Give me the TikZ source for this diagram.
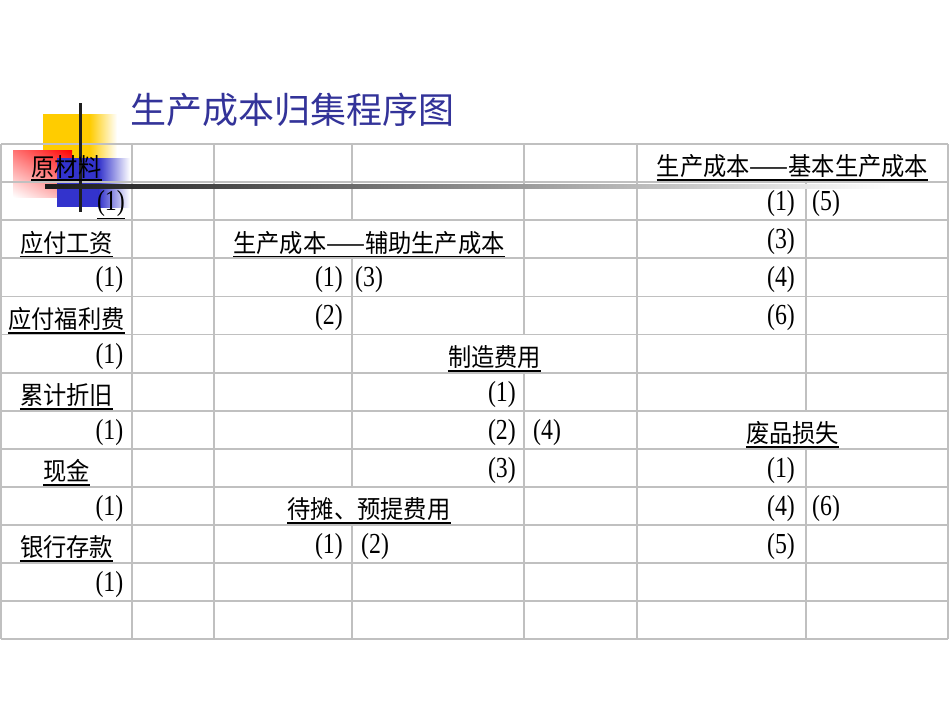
\documentclass[tikz,border=0pt]{standalone}
\usepackage{fontspec}
\usetikzlibrary{shadings}
\setmainfont{Liberation Serif}
\newfontfamily\cjk[FakeStretch=0.93]{Noto Sans CJK SC}
\newfontfamily\titlef{Noto Sans CJK SC}
\newfontfamily\numf[FakeStretch=0.82]{Liberation Serif}
\definecolor{gridc}{RGB}{192,192,192}
\definecolor{titlec}{RGB}{51,51,153}
\definecolor{yel}{RGB}{255,204,0}
\definecolor{blu}{RGB}{51,51,204}
\newcommand\ulbox[3]{\node[cn] (#1) at (#2) {#3};
  \draw[ulc] ([yshift=-2pt]#1.south west) -- ([yshift=-2pt]#1.south east);}
\begin{document}
\begin{tikzpicture}[x=1pt,y=-1pt,
  cn/.style={font=\cjk\fontsize{25}{25}\selectfont,inner sep=0pt},
  nm/.style={font=\numf\fontsize{29}{29}\selectfont,inner sep=0pt},
  ulc/.style={line width=1.8pt,black},
  gl/.style={draw=gridc,line width=1.8pt}]
\useasboundingbox[fill=white] (0,0) rectangle (950,713);

% template decoration
\fill[yel] (43,114) rectangle (90,186);
\shade[left color=yel,right color=white] (89.5,114) rectangle (117,186);
\shade[upper right=red,upper left=red!55!white,lower right=red!35!white,lower left=white] (13,150) rectangle (72,197);
\fill[blu] (57,158) rectangle (99,207);
\shade[left color=blu,right color=white] (98.5,158) rectangle (130,207);

% grid
\foreach \i in {0,...,13} \draw[gl] (1,{144+\i*38.1}) -- (948,{144+\i*38.1});
\foreach \x in {1,132,214,637,948} \draw[gl] (\x,144) -- (\x,639.3);
\draw[gl] (352,144) -- (352,220.2) (352,258.3) -- (352,486.9) (352,525) -- (352,639.3);
\draw[gl] (524,144) -- (524,334.5) (524,372.6) -- (524,639.3);
\draw[gl] (806,182.1) -- (806,410.7) (806,448.8) -- (806,639.3);

% black template lines
\fill[black!88] (78.5,103) rectangle (81.5,212);
\shade[left color=black!90,middle color=black!60,right color=white] (45,184.5) rectangle (890,188.5);

% title
\node[font=\titlef\fontsize{36}{36}\selectfont,text=titlec,anchor=west,inner sep=0pt] (title) at (130,110) {生产成本归集程序图};

% row 1
\ulbox{yclb}{66.5,166.5}{原材料}
\ulbox{jbsc}{792.5,166.5}{生产成本——基本生产成本}
% row 2
\node[nm,anchor=east] (r2a) at (125,203.7) {(1)};
\draw[ulc] ([yshift=-1.5pt]r2a.south west) -- ([yshift=-1.5pt]r2a.south east);
\node[nm,anchor=east] (r2f) at (795,203.7) {(1)};
\node[nm,anchor=west] (r2g) at (812,203.7) {(5)};
% row 3
\ulbox{yfgz}{66.5,242.7}{应付工资}
\ulbox{fzsc}{369,242.7}{生产成本——辅助生产成本}
\node[nm,anchor=east] (r3f) at (795,241.8) {(3)};
% row 4
\node[nm,anchor=east] (r4a) at (123.5,279.9) {(1)};
\node[nm,anchor=east] (r4c) at (343,279.9) {(1)};
\node[nm,anchor=west] (r4d) at (355,279.9) {(3)};
\node[nm,anchor=east] (r4f) at (795,279.9) {(4)};
% row 5
\ulbox{yfflf}{66.5,318.9}{应付福利费}
\node[nm,anchor=east] (r5c) at (343,318) {(2)};
\node[nm,anchor=east] (r5f) at (795,318) {(6)};
% row 6
\node[nm,anchor=east] (r6a) at (123.5,356.1) {(1)};
\ulbox{zzfy}{494.5,357}{制造费用}
% row 7
\ulbox{ljzj}{66.5,395.1}{累计折旧}
\node[nm,anchor=east] (r7d) at (516,394.2) {(1)};
% row 8
\node[nm,anchor=east] (r8a) at (123.5,432.3) {(1)};
\node[nm,anchor=east] (r8d) at (516,432.3) {(2)};
\node[nm,anchor=west] (r8e) at (533,432.3) {(4)};
\ulbox{fpss}{792.5,433.2}{废品损失}
% row 9
\ulbox{xj}{66.5,471.3}{现金}
\node[nm,anchor=east] (r9d) at (516,470.4) {(3)};
\node[nm,anchor=east] (r9f) at (795,470.4) {(1)};
% row 10
\node[nm,anchor=east] (r10a) at (123.5,508.5) {(1)};
\ulbox{dtyt}{369,509.4}{待摊、预提费用}
\node[nm,anchor=east] (r10f) at (795,508.5) {(4)};
\node[nm,anchor=west] (r10g) at (812,508.5) {(6)};
% row 11
\ulbox{yhck}{66.5,547.5}{银行存款}
\node[nm,anchor=east] (r11c) at (343,546.6) {(1)};
\node[nm,anchor=west] (r11d) at (361,546.6) {(2)};
\node[nm,anchor=east] (r11f) at (795,546.6) {(5)};
% row 12
\node[nm,anchor=east] (r12a) at (123.5,584.7) {(1)};
\end{tikzpicture}
\end{document}
